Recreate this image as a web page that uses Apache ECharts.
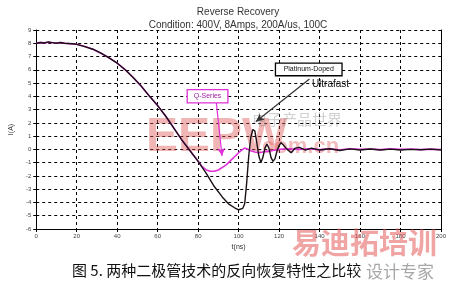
<!DOCTYPE html>
<html><head><meta charset="utf-8">
<script src="https://cdn.jsdelivr.net/npm/echarts@6/dist/echarts.min.js"></script>
<style>html,body{margin:0;padding:0;background:#fff;}#c{width:449px;height:285px;}</style>
</head><body><div id="c"></div>
<script>
// ---- data ----
var xTicks = [0,20,40,60,80,100,120,140,160,180,200];
var yTicks = [-6,-5,-4,-3,-2,-1,0,1,2,3,4,5,6,7,8,9];
var ultrafastT = [0,2,4,6,8,10,12,14,16,18,20,24,28,32,36,40,44,48,52,56,60,64,68,72,76,80,84,88,92,95,98,100,102,103,104,105,106,107,108,109,110,111,112,113,114,115,116,117,118,119,120,121,122,124,126,128,130,133,136,140,145,150,155,160,165,170,175,180,185,190,195,200];
var ultrafastI = [8.0,8.06,8.02,8.1,8.05,8.0,8.06,8.0,7.98,7.96,7.92,7.75,7.55,7.25,6.9,6.5,6.0,5.4,4.75,4.0,3.3,2.5,1.6,0.7,-0.1,-0.9,-1.8,-2.8,-3.6,-4.1,-4.4,-4.55,-4.45,-4.1,-2.5,-0.5,0.9,1.5,1.4,0.5,-0.5,-1.0,-0.6,0.1,0.4,0.1,-0.6,-0.9,-0.7,-0.1,0.3,0.5,0.35,0.0,-0.25,0.1,0.15,-0.05,0.1,-0.05,0.05,-0.08,0.04,-0.05,0.03,-0.04,0.02,-0.05,0.0,-0.03,0.02,-0.04];
var qSeriesT = [0,2,4,6,8,10,12,14,16,18,20,24,28,32,36,40,44,48,52,56,60,64,68,72,76,80,82,84,86,88,90,92,94,96,98,100,102,103,104,106,108,110,112,114,116,120,125,130,135,140,145,150,155,160,165,170,175,180,185,190,195,200];
var qSeriesI = [8.0,8.05,8.03,8.08,8.04,8.02,8.05,8.0,7.97,7.95,7.92,7.75,7.55,7.25,6.9,6.5,6.0,5.4,4.75,4.0,3.3,2.5,1.6,0.7,-0.1,-0.9,-1.3,-1.55,-1.65,-1.65,-1.55,-1.35,-1.15,-0.85,-0.55,-0.25,0.0,0.1,0.05,-0.1,-0.2,-0.25,-0.2,-0.15,-0.1,0.0,0.05,0.0,0.05,-0.02,0.04,-0.03,0.05,0.0,0.03,-0.02,0.04,0.0,0.03,-0.02,0.02,-0.01];

function pairs(t, v){ return t.map(function(x,i){ return [x, v[i]]; }); }

var chart = echarts.init(document.getElementById('c'), null, {renderer:'canvas'});
var axisTxt = {color:'#444', fontSize:6, fontFamily:'Liberation Sans, Arial'};
var option = {
  animation:false,
  backgroundColor:'#fff',
  title:{
    text:'Reverse Recovery\nCondition: 400V, 8Amps, 200A/us, 100C',
    left:233, top:1, textAlign:'center',
    textStyle:{fontSize:10, fontWeight:'normal', color:'#333', fontFamily:'Liberation Sans, Arial', lineHeight:12.5}
  },
  grid:{left:26, right:8, top:30, bottom:56},
  xAxis:{
    type:'value', min:0, max:200, interval:20,
    name:'t(ns)', nameLocation:'middle', nameGap:10,
    nameTextStyle:{fontSize:7, color:'#333', fontFamily:'Liberation Sans, Arial'},
    axisLine:{show:true, onZero:false, lineStyle:{color:'#000', width:1}},
    axisTick:{show:true, length:3, lineStyle:{color:'#000'}},
    axisLabel:Object.assign({margin:4, formatter:function(v){return xTicks.indexOf(v)>=0? String(v):'';}}, axisTxt),
    splitLine:{show:true, lineStyle:{color:'#000', type:[3,3], width:1}}
  },
  yAxis:[{
    type:'value', min:-6, max:9, interval:1,
    name:'I(A)', nameLocation:'middle', nameGap:18, nameRotate:90,
    nameTextStyle:{fontSize:7, color:'#333', fontFamily:'Liberation Sans, Arial'},
    axisLine:{show:true, onZero:false, lineStyle:{color:'#000', width:1}},
    axisTick:{show:true, length:3, lineStyle:{color:'#000'}},
    axisLabel:Object.assign({margin:5, formatter:function(v){return yTicks.indexOf(v)>=0? String(v):'';}}, axisTxt),
    splitLine:{show:true, lineStyle:{color:'#000', type:[3,3], width:1}}
  },{
    type:'value', min:-6, max:9, interval:1, position:'right',
    axisLine:{show:true, onZero:false, lineStyle:{color:'#000', width:1}},
    axisTick:{show:false}, axisLabel:{show:false}, splitLine:{show:false}
  }],
  series:[{
    name:'Q-Series', type:'line', showSymbol:false, symbol:'none', z:2,
    data:pairs(qSeriesT, qSeriesI),
    lineStyle:{color:'#e030d8', width:1.6}
  },{
    name:'Platinum-Doped Ultrafast', type:'line', showSymbol:false, symbol:'none', z:3,
    data:pairs(ultrafastT, ultrafastI),
    lineStyle:{color:'#1a1016', width:1.4},
    markLine:{
      silent:true, symbol:['none','arrow'], symbolSize:[6,8], label:{show:false},
      data:[
        [{coord:[135,5.3], lineStyle:{color:'#333', width:1.2, type:'solid'}},{coord:[108.6,2.1]}],
        [{coord:[89,3.5], lineStyle:{color:'#e030d8', width:1.2, type:'solid'}},{coord:[91.8,-0.5]}]
      ]
    }
  }]
};
chart.setOption(option);

function P(x,y){ return chart.convertToPixel({xAxisIndex:0,yAxisIndex:0},[x,y]); }
var a = P(118.2,6.5), b = P(151.1,5.55);
var c = P(74.6,4.5), d = P(94.7,3.5);
var u = P(136.2,4.9);
chart.setOption({graphic:[
  // watermarks
  {type:'text', left:146, top:114, z:1, style:{text:'EEPW', font:'bold 48px Liberation Sans, Arial', fill:'rgba(220,80,80,0.42)'}},
  {type:'text', left:252, top:112, z:1, style:{text:'电子产品世界', font:'15px Noto Sans CJK SC', fill:'rgba(120,120,120,0.35)'}},
  {type:'text', left:256, top:136, z:1, style:{text:'.com.cn', font:'bold 22px Liberation Sans, Arial', fill:'rgba(220,80,80,0.38)'}},
  {type:'text', left:292, top:228, z:1, style:{text:'易迪拓培训', font:'bold 29px Noto Sans CJK SC', fill:'rgba(228,90,90,0.55)'}},
  // annotations
  {type:'rect', z:10, shape:{x:a[0], y:a[1], width:b[0]-a[0], height:b[1]-a[1]}, style:{fill:'#fff', stroke:'#000', lineWidth:1.3}},
  {type:'text', z:11, x:(a[0]+b[0])/2, y:(a[1]+b[1])/2, style:{text:'Platinum-Doped', font:'7px Liberation Sans, Arial', fill:'#111', align:'center', verticalAlign:'middle'}},
  {type:'text', z:11, x:u[0], y:u[1], style:{text:'Ultrafast', font:'10px Liberation Sans, Arial', fill:'#111', align:'left', verticalAlign:'middle'}},
  {type:'rect', z:10, shape:{x:c[0], y:c[1], width:d[0]-c[0], height:d[1]-c[1]}, style:{fill:'#fff', stroke:'#e030d8', lineWidth:1.3}},
  {type:'text', z:11, x:(c[0]+d[0])/2, y:(c[1]+d[1])/2, style:{text:'Q-Series', font:'7px Liberation Sans, Arial', fill:'#a020a0', align:'center', verticalAlign:'middle'}},
  // caption
  {type:'text', left:72, top:263, z:5, style:{text:'图 5. 两种二极管技术的反向恢复特性之比较', font:'15px Noto Sans CJK SC', fill:'#111'}},
  {type:'text', left:366, top:263, z:4, style:{text:'设计专家', font:'17px Noto Sans CJK SC', fill:'rgba(130,130,130,0.7)'}}
]});
</script></body></html>
